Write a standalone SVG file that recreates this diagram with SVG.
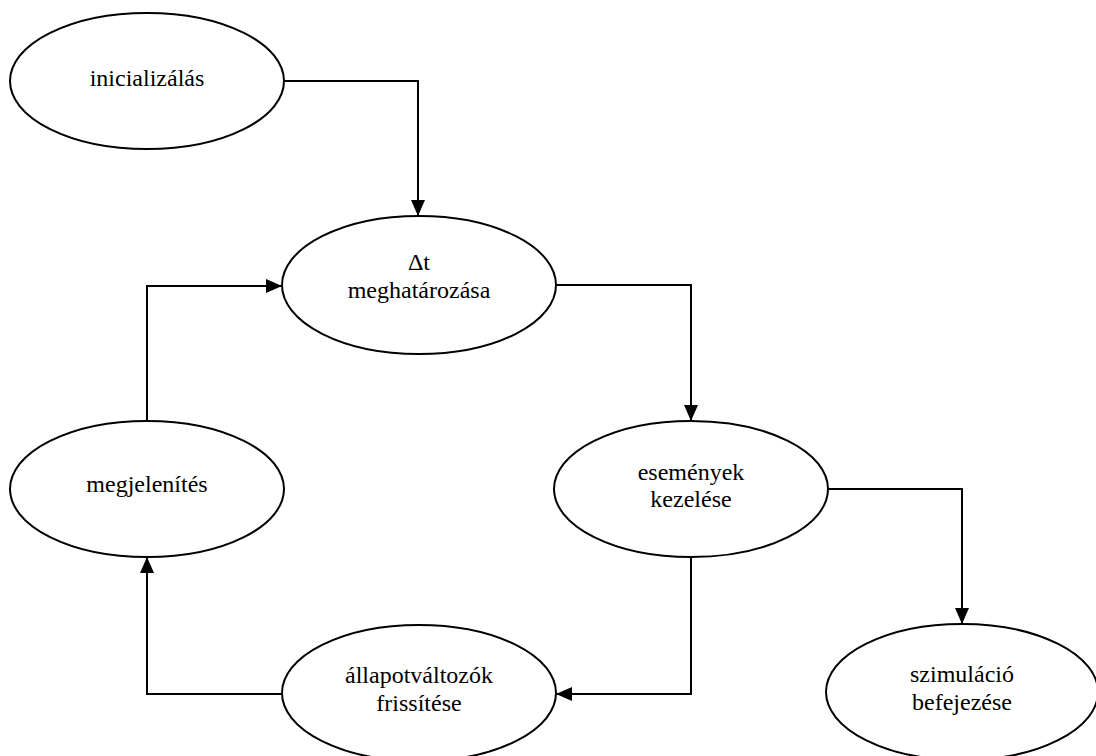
<svg xmlns="http://www.w3.org/2000/svg" width="1096" height="756" viewBox="0 0 1096 756">
<style>
.n{fill:#fff;stroke:#000;stroke-width:2}
.t{font-family:'Liberation Serif','Times New Roman',serif;font-size:24px;fill:#000;text-anchor:middle}
.c{fill:none;stroke:#000;stroke-width:2}
</style>
<defs>
<marker id="a" markerUnits="userSpaceOnUse" markerWidth="16" markerHeight="16" refX="16" refY="7" orient="auto">
<path d="M0,0 L16,7 L0,14 Z" fill="#000"/>
</marker>
</defs>
<rect width="1096" height="756" fill="#fff"/>
<g id="connectors">
<path class="c" d="M283,81 H418 V216" marker-end="url(#a)"/>
<path class="c" d="M556,285 H691 V421" marker-end="url(#a)"/>
<path class="c" d="M827,489 H962 V624" marker-end="url(#a)"/>
<path class="c" d="M691,557 V694 H556" marker-end="url(#a)"/>
<path class="c" d="M283,694 H147 V557" marker-end="url(#a)"/>
<path class="c" d="M147,421 V286 H282" marker-end="url(#a)"/>
</g>
<g id="inicializalas">
<ellipse class="n" cx="147" cy="81" rx="137" ry="68"/>
<text class="t" x="147" y="86">inicializálás</text>
</g>
<g id="dt">
<ellipse class="n" cx="419" cy="285" rx="137" ry="69"/>
<text class="t" x="419" y="270">Δt</text>
<text class="t" x="419" y="298">meghatározása</text>
</g>
<g id="megjelenites">
<ellipse class="n" cx="147" cy="489" rx="137" ry="68"/>
<text class="t" x="147" y="492">megjelenítés</text>
</g>
<g id="esemenyek">
<ellipse class="n" cx="691" cy="489" rx="137" ry="68"/>
<text class="t" x="691" y="480">események</text>
<text class="t" x="691" y="507">kezelése</text>
</g>
<g id="allapot">
<ellipse class="n" cx="419" cy="693" rx="137" ry="68"/>
<text class="t" x="419" y="683">állapotváltozók</text>
<text class="t" x="419" y="711">frissítése</text>
</g>
<g id="szimulacio">
<ellipse class="n" cx="962" cy="692" rx="136" ry="68"/>
<text class="t" x="962" y="682">szimuláció</text>
<text class="t" x="962" y="710">befejezése</text>
</g>
</svg>
